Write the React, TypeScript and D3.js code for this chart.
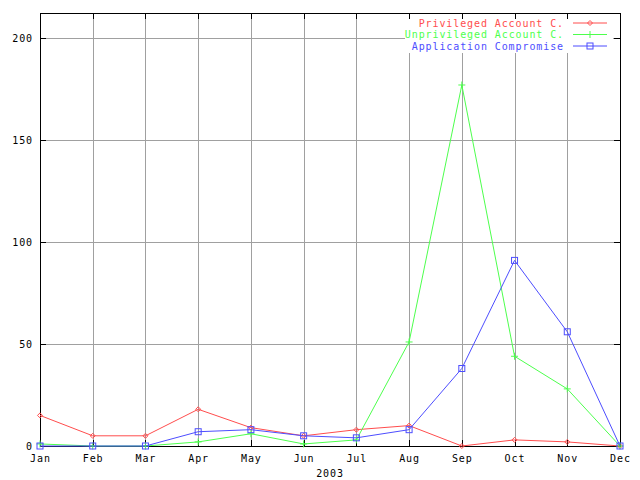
import * as d3 from "d3";
import { useEffect, useRef } from "react";

const months = ["Jan", "Feb", "Mar", "Apr", "May", "Jun", "Jul", "Aug", "Sep", "Oct", "Nov", "Dec"];
const privileged = [15, 5, 5, 18, 9, 5, 8, 10, 0, 3, 2, 0];
const unprivileged = [1, 0, 0, 2, 6, 1, 3, 51, 177, 44, 28, 0];
const application = [0, 0, 0, 7, 8, 5, 4, 8, 38, 91, 56, 0];
const yTicks = [0, 50, 100, 150, 200];

const series = [
  { name: "Privileged Account C.", values: privileged, color: "#ff4d4d", mark: "diamond" },
  { name: "Unprivileged Account C.", values: unprivileged, color: "#4dff4d", mark: "plus" },
  { name: "Application Compromise", values: application, color: "#4d4dff", mark: "square" },
];

const App = () => {
  const ref = useRef<SVGSVGElement | null>(null);

  useEffect(() => {
    const svg = d3.select(ref.current);
    svg.selectAll("*").remove();

    const left = 40, right = 620, top = 13, bottom = 446;
    const font = "'DejaVu Sans Mono', monospace";
    const fs = 10;
    const ls = 0.9;

    const x = d3.scalePoint<string>().domain(months).range([left, right]);
    const y = d3.scaleLinear().domain([0, 212.3]).range([bottom, top]);

    svg.append("rect").attr("width", 640).attr("height", 480).attr("fill", "white");

    const grid = svg.append("g").attr("stroke", "#a0a0a0").attr("shape-rendering", "crispEdges");
    grid.selectAll("line.v").data(months).enter().append("line")
      .attr("x1", (d) => x(d)! + 0.5).attr("x2", (d) => x(d)! + 0.5)
      .attr("y1", top).attr("y2", bottom);
    grid.selectAll("line.h").data(yTicks).enter().append("line")
      .attr("x1", left).attr("x2", right)
      .attr("y1", (d) => y(d) + 0.5).attr("y2", (d) => y(d) + 0.5);

    // key area hides the grid
    svg.append("rect").attr("x", 405).attr("y", 14).attr("width", 208).attr("height", 39).attr("fill", "white");

    const axes = svg.append("g").attr("stroke", "black").attr("shape-rendering", "crispEdges");
    axes.append("rect").attr("x", left + 0.5).attr("y", top + 0.5)
      .attr("width", right - left).attr("height", bottom - top).attr("fill", "none");
    months.forEach((m) => {
      const px = x(m)! + 0.5;
      axes.append("line").attr("x1", px).attr("x2", px).attr("y1", bottom).attr("y2", bottom - 6);
      axes.append("line").attr("x1", px).attr("x2", px).attr("y1", top).attr("y2", top + 6);
    });
    yTicks.forEach((t) => {
      const py = y(t) + 0.5;
      axes.append("line").attr("x1", left).attr("x2", left + 6).attr("y1", py).attr("y2", py);
      axes.append("line").attr("x1", right).attr("x2", right - 6).attr("y1", py).attr("y2", py);
    });

    const labels = svg.append("g").attr("font-family", font).attr("font-size", fs)
      .attr("letter-spacing", ls).attr("fill", "black");
    labels.selectAll("text.x").data(months).enter().append("text")
      .attr("x", (d) => x(d)! + ls / 2).attr("y", bottom + 16).attr("text-anchor", "middle").text((d) => d);
    labels.selectAll("text.y").data(yTicks).enter().append("text")
      .attr("x", left - 7).attr("y", (d) => y(d) + 4).attr("text-anchor", "end").text((d) => d);
    labels.append("text").attr("x", (left + right) / 2).attr("y", 477).attr("text-anchor", "middle").text("2003");

    const line = d3.line<number>().x((_, i) => x(months[i])!).y((d) => y(d));

    const drawMark = (g: d3.Selection<SVGGElement, unknown, null, undefined>, kind: string, cx: number, cy: number, color: string) => {
      if (kind === "diamond") {
        g.append("path").attr("d", `M${cx},${cy - 2.5}L${cx + 2.5},${cy}L${cx},${cy + 2.5}L${cx - 2.5},${cy}Z`)
          .attr("fill", "none").attr("stroke", color);
      } else if (kind === "plus") {
        g.append("path").attr("d", `M${cx - 3.5},${cy}H${cx + 3.5}M${cx},${cy - 3.5}V${cy + 3.5}`)
          .attr("stroke", color);
      } else {
        g.append("rect").attr("x", cx - 3).attr("y", cy - 3).attr("width", 6).attr("height", 6)
          .attr("fill", "none").attr("stroke", color);
      }
    };

    series.forEach((s, k) => {
      const g = svg.append("g");
      g.append("path").datum(s.values).attr("d", line).attr("fill", "none").attr("stroke", s.color).attr("stroke-width", 1);
      s.values.forEach((v, i) => drawMark(g, s.mark, x(months[i])!, y(v), s.color));

      const ky = 23 + k * 11.5;
      g.append("text").attr("x", 564).attr("y", ky + 3.5).attr("text-anchor", "end")
        .attr("font-family", font).attr("font-size", fs).attr("letter-spacing", ls)
        .attr("fill", s.color).text(s.name);
      g.append("line").attr("x1", 573).attr("x2", 607).attr("y1", ky).attr("y2", ky).attr("stroke", s.color);
      drawMark(g, s.mark, 590, ky, s.color);
    });
  }, []);

  return <svg ref={ref} width={640} height={480} style={{ position: "absolute", left: 0, top: 0 }}></svg>;
};

export default App;
